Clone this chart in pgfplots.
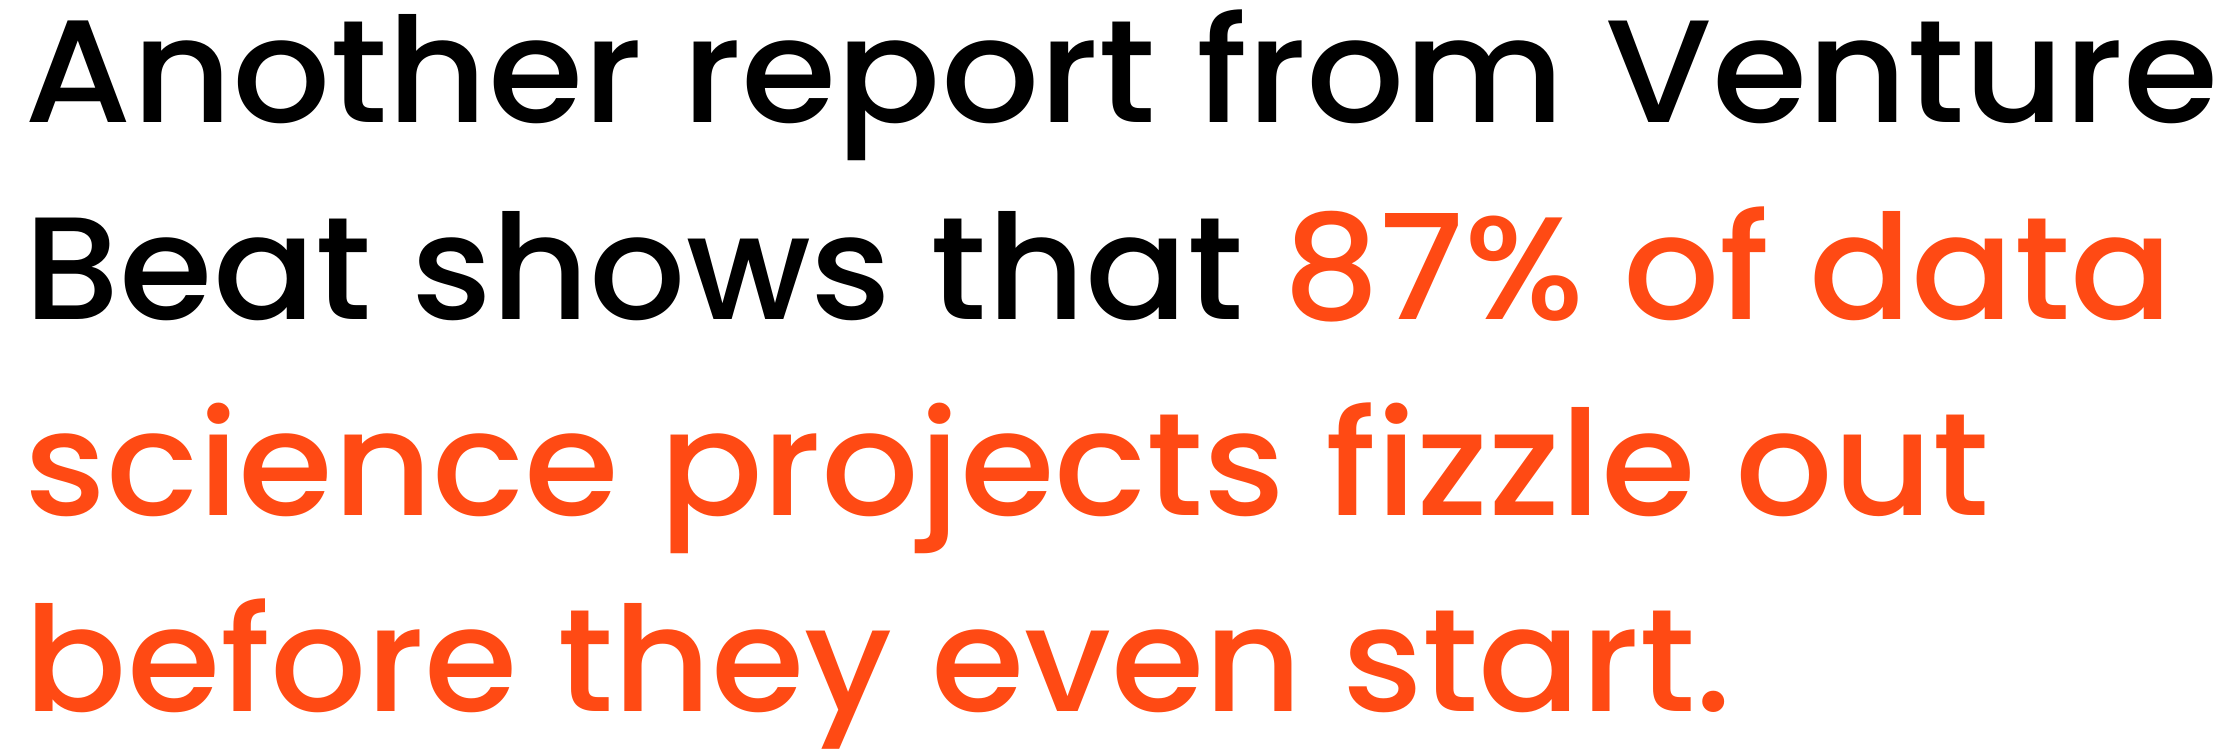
\documentclass[border=0pt]{standalone}
\usepackage{fontspec}
\newfontfamily\headfont{Poppins Medium}
\usepackage{graphicx}
\usepackage{pgfplots}
\pgfplotsset{compat=1.18}
\definecolor{vborange}{RGB}{255,74,20}
\tikzset{txtline/.style={anchor=base west, inner sep=0pt, font=\headfont\fontsize{36.5}{40}\selectfont}}

\begin{document}
\begin{tikzpicture}
\useasboundingbox (0,0) rectangle (556.75pt,188.25pt);
\clip (0,0) rectangle (556.75pt,188.25pt);
\begin{axis}[
    hide axis,
    scale only axis,
    width=556.75pt, height=188.25pt,
    xmin=0, xmax=2227, ymin=0, ymax=753,
    clip=false
]
% one px of the reference = 0.25pt; baselines at 123, 319, 515, 711 px from the top
\node[txtline] at (axis cs:24,630) {\resizebox{548.5pt}{\height}{Another report from Venture}};
\node[txtline] at (axis cs:24,434) {\resizebox{537pt}{\height}{Beat shows that \textcolor{vborange}{87\% of data}}};
\node[txtline, text=vborange] at (axis cs:24,238) {\resizebox{491.25pt}{\height}{science projects fizzle out}};
\node[txtline, text=vborange] at (axis cs:24,42) {\resizebox{426.75pt}{\height}{before they even start.}};
\end{axis}
\end{tikzpicture}
\end{document}
